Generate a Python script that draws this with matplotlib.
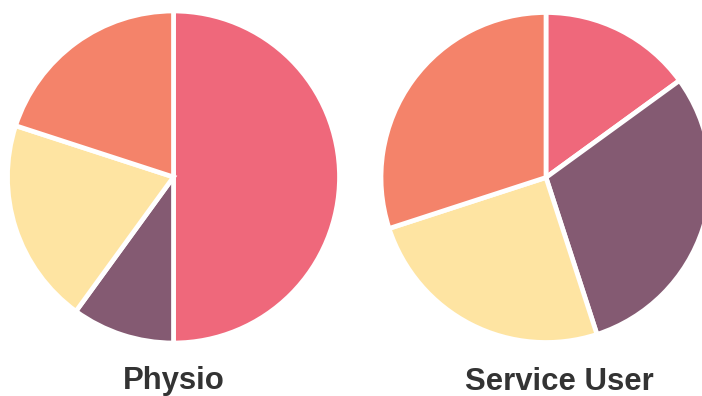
import matplotlib
matplotlib.use("Agg")
import matplotlib.pyplot as plt

# Segment shares, listed clockwise from 12 o'clock
segments = ["Pink", "Purple", "Yellow", "Orange"]
physio = [50, 10, 20, 20]
service_user = [15, 30, 25, 30]
titles = ["Physio", "Service User"]
colors = ["#EF687B", "#845A72", "#FEE4A2", "#F4836A"]

W, H = 702, 396
fig = plt.figure(figsize=(W / 100, H / 100), dpi=100)
ax = fig.add_axes([0, 0, 1, 1])

layout = [
    {"center": (173.5, H - 177), "radius": 166, "title_x": 174},
    {"center": (546, H - 177.5), "radius": 165, "title_x": 559.5},
]

for vals, title, lay in zip([physio, service_user], titles, layout):
    ax.pie(vals, colors=colors, startangle=90, counterclock=False,
           center=lay["center"], radius=lay["radius"],
           wedgeprops=dict(edgecolor="white", linewidth=3.4),
           frame=True)
    ax.text(lay["title_x"], H - 389.5, title, ha="center", va="baseline",
            fontsize=22.4, fontweight="bold", color="#333333",
            family=["Liberation Sans", "DejaVu Sans"])

ax.set_xlim(0, W)
ax.set_ylim(0, H)
ax.set_aspect("equal")
ax.axis("off")

fig.savefig("out.png", dpi=100)
